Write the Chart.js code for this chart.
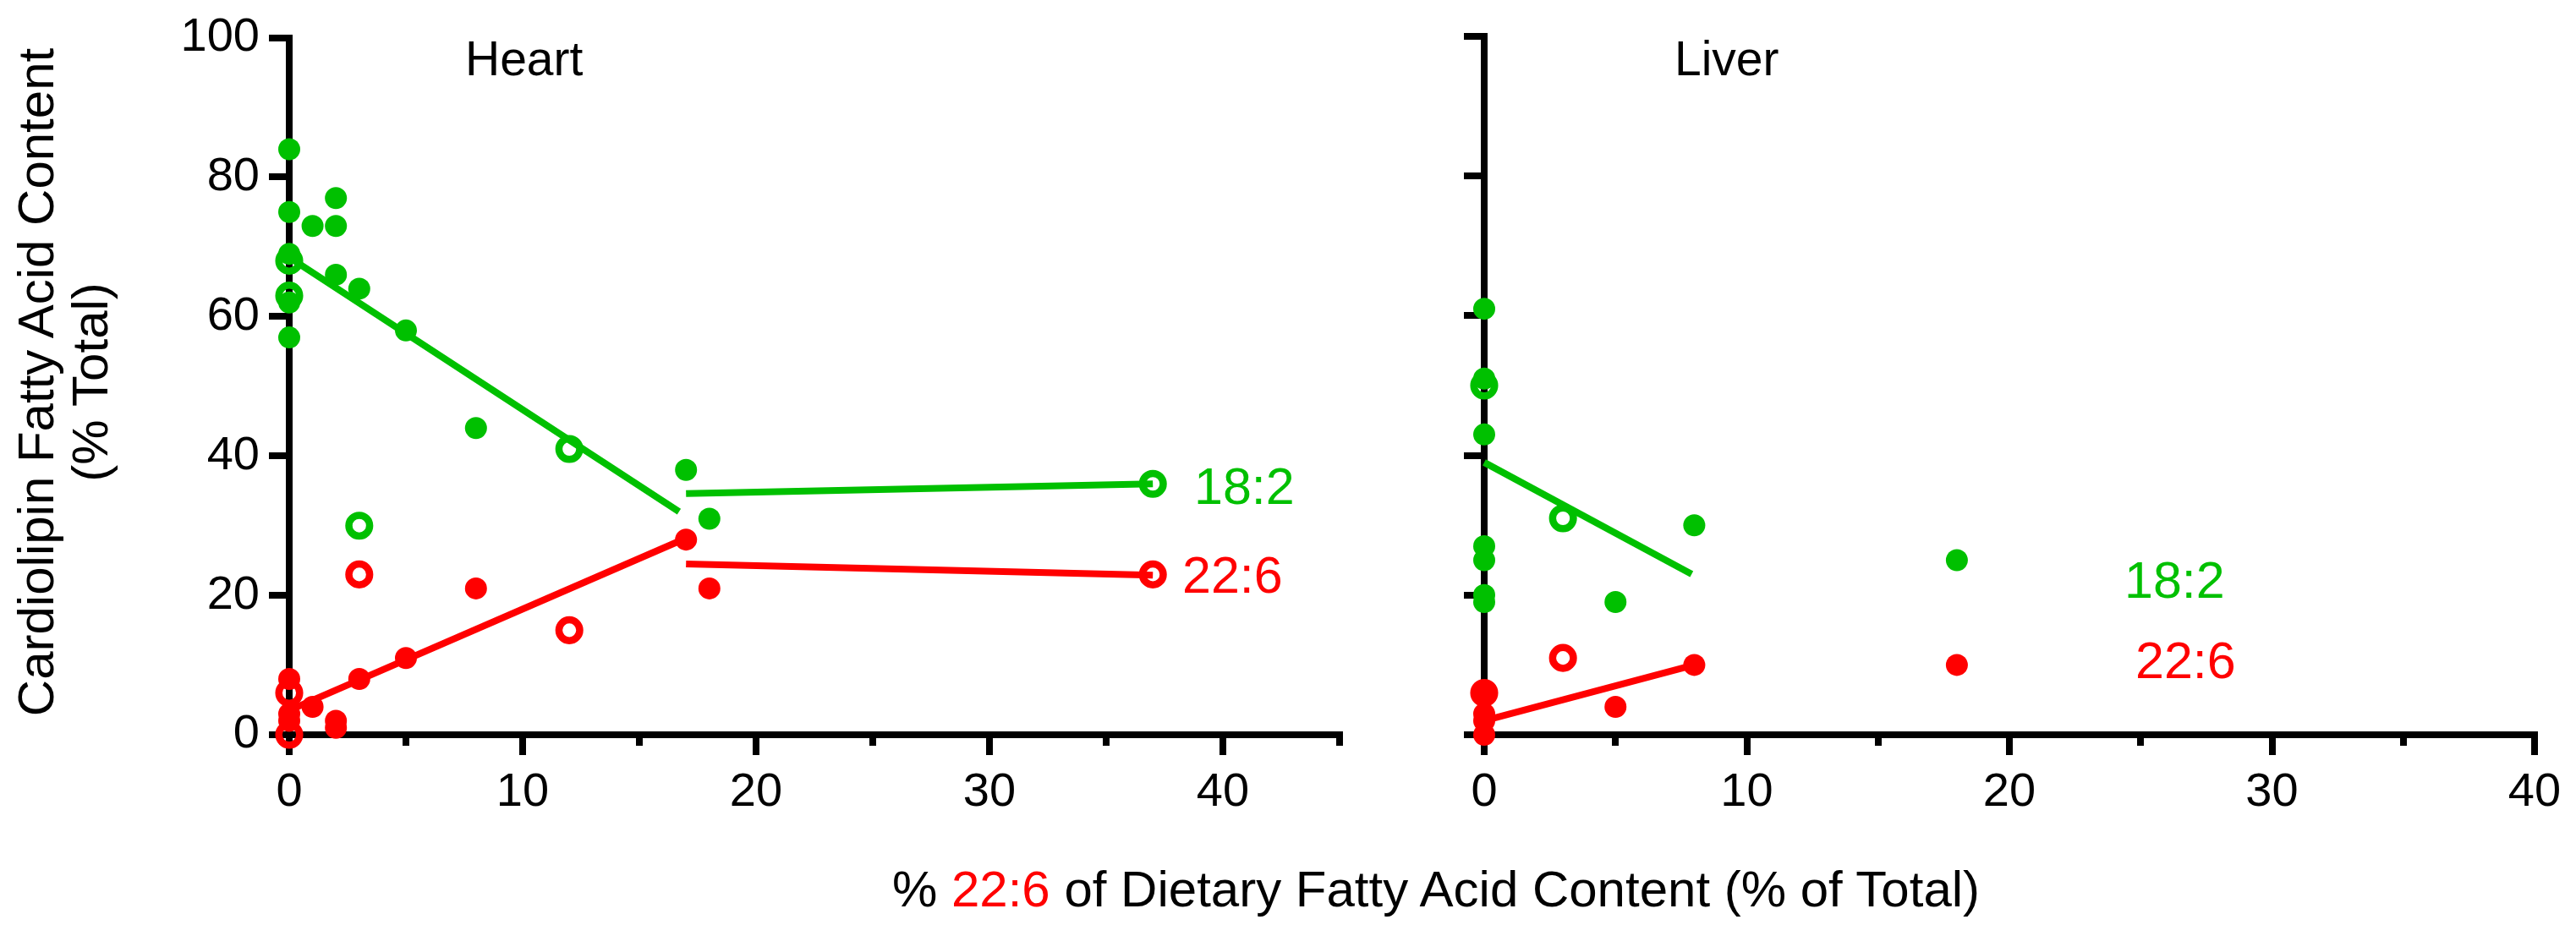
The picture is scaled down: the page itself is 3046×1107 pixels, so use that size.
<!DOCTYPE html>
<html>
<head>
<title>Cardiolipin Fatty Acid Content</title>
<script src="https://cdn.jsdelivr.net/npm/chart.js@4.4.1/dist/chart.umd.min.js"></script>
<style>
body{margin:0;background:#fff;}
#wrap{position:relative;width:3046px;height:1107px;background:#fff;overflow:hidden;font-family:Arial,"Liberation Sans",sans-serif;color:#000;}
canvas{position:absolute;top:0;}
.lbl{position:absolute;white-space:nowrap;line-height:1;}
</style>
</head>
<body>
<div id="wrap">
  <canvas id="heart" width="1700" height="1000" style="left:0px"></canvas>
  <canvas id="liver" width="1346" height="1000" style="left:1700px"></canvas>

  <div class="lbl" style="left:550px;top:41px;font-size:57px">Heart</div>
  <div class="lbl" style="left:1980px;top:41px;font-size:57px">Liver</div>

  <div class="lbl" style="left:1412px;top:545px;font-size:61px;color:rgb(0,192,0)">18:2</div>
  <div class="lbl" style="left:1398px;top:650px;font-size:61px;color:#f00">22:6</div>
  <div class="lbl" style="left:2512px;top:656px;font-size:61px;color:rgb(0,192,0)">18:2</div>
  <div class="lbl" style="left:2525px;top:751px;font-size:61px;color:#f00">22:6</div>

  <div class="lbl" style="left:1698px;top:1022px;font-size:60px;transform:translateX(-50%)">% <span style="color:#f00">22:6</span> of Dietary Fatty Acid Content (% of Total)</div>
  <div class="lbl" style="left:-375px;top:388px;width:900px;font-size:60px;line-height:64px;text-align:center;transform:rotate(-90deg)">Cardiolipin Fatty Acid Content<br>(% Total)</div>
</div>

<script>
// heart, 18:2
var heart182FilledX = [0, 0, 0, 0, 0, 1, 2, 2, 2, 3, 5, 8, 17, 18];
var heart182FilledY = [84, 75, 69, 62, 57, 73, 77, 73, 66, 64, 58, 44, 38, 31];
var heart182OpenX = [0, 0, 3, 12, 37];
var heart182OpenY = [68, 63, 30, 41, 36];
// heart, 22:6
var heart226FilledX = [0, 0, 0, 1, 2, 2, 3, 5, 8, 17, 18];
var heart226FilledY = [8, 3, 2, 4, 2, 1, 8, 11, 21, 28, 21];
var heart226OpenX = [0, 0, 3, 12, 37];
var heart226OpenY = [6, 0, 23, 15, 23];
// heart fit lines
var heart182Fit1X = [0, 16.7], heart182Fit1Y = [68.5, 32];
var heart182Fit2X = [17, 37], heart182Fit2Y = [34.6, 36];
var heart226Fit1X = [0, 17], heart226Fit1Y = [3.5, 28.2];
var heart226Fit2X = [17, 37], heart226Fit2Y = [24.5, 22.9];

// liver, 18:2
var liver182FilledX = [0, 0, 0, 0, 0, 0, 0, 5, 8, 18];
var liver182FilledY = [61, 51, 43, 27, 25, 20, 19, 19, 30, 25];
var liver182OpenX = [0, 3];
var liver182OpenY = [50, 31];
// liver, 22:6
var liver226FilledX = [0, 0, 0, 0, 5, 8, 18];
var liver226FilledY = [6, 3, 2, 0, 4, 10, 10];
var liver226OpenX = [0, 3];
var liver226OpenY = [6, 11];
// liver fit lines
var liver182FitX = [0, 7.9], liver182FitY = [39, 23];
var liver226FitX = [0, 8], liver226FitY = [2, 10];

var yTicks = [0, 20, 40, 60, 80, 100];

var GREEN = 'rgb(0,192,0)';
var RED = 'rgb(255,0,0)';
var FONT = 'Arial, "Liberation Sans", sans-serif';

function pts(xs, ys) {
  return xs.map(function (x, i) { return {x: x, y: ys[i]}; });
}
function filled(xs, ys, c) {
  return {data: pts(xs, ys), showLine: false, pointRadius: 13, pointBackgroundColor: c,
          pointBorderWidth: 0, pointBorderColor: c, clip: false, order: 1};
}
function open(xs, ys, c) {
  return {data: pts(xs, ys), showLine: false, pointRadius: 12.3, pointBackgroundColor: 'rgba(0,0,0,0)',
          pointBorderWidth: 8.5, pointBorderColor: c, clip: false, order: 1};
}
function fitLine(xs, ys, c) {
  return {data: pts(xs, ys), showLine: true, borderColor: c, borderWidth: 8,
          pointRadius: 0, clip: false, order: 2};
}

function panel(id, datasets, xMax, showYLabels, yWidth, padRight) {
  var tickFont = {family: FONT, size: 56};
  new Chart(document.getElementById(id), {
    type: 'scatter',
    data: {datasets: datasets},
    options: {
      responsive: false,
      animation: false,
      devicePixelRatio: 1,
      events: [],
      layout: {padding: {top: 43, right: padRight, bottom: 0, left: 0}},
      plugins: {legend: {display: false}, tooltip: {enabled: false}},
      scales: {
        x: {
          type: 'linear', position: 'bottom', min: 0, max: xMax, weight: 1,
          ticks: {stepSize: 10, includeBounds: false, autoSkip: false, maxRotation: 0,
                  color: '#000', padding: 11, font: tickFont},
          grid: {drawOnChartArea: false, drawTicks: true, tickLength: 24, tickWidth: 8,
                 lineWidth: 8, tickColor: '#000', color: '#000'},
          border: {display: true, color: '#000', width: 8},
          afterFit: function (s) { s.height = 131; }
        },
        xMinor: {
          type: 'linear', position: 'bottom', min: 0, max: xMax, weight: -10,
          ticks: {stepSize: 5, display: false},
          grid: {drawOnChartArea: false, drawTicks: true, tickLength: 13, tickWidth: 8,
                 lineWidth: 8, tickColor: '#000', color: '#000'},
          border: {display: false},
          afterFit: function (s) { s.height = 0; }
        },
        y: {
          type: 'linear', position: 'left', min: 0, max: 100,
          afterBuildTicks: function (s) { s.ticks = yTicks.map(function (v) { return {value: v}; }); },
          ticks: {display: showYLabels, color: '#000', padding: 11, font: tickFont},
          grid: {drawOnChartArea: false, drawTicks: true, tickLength: 24, tickWidth: 8,
                 lineWidth: 8, tickColor: '#000', color: '#000'},
          border: {display: true, color: '#000', width: 8},
          afterFit: function (s) { s.width = yWidth; }
        }
      }
    }
  });
}

panel('heart', [
  fitLine(heart182Fit1X, heart182Fit1Y, GREEN),
  fitLine(heart182Fit2X, heart182Fit2Y, GREEN),
  fitLine(heart226Fit1X, heart226Fit1Y, RED),
  fitLine(heart226Fit2X, heart226Fit2Y, RED),
  filled(heart182FilledX, heart182FilledY, GREEN),
  open(heart182OpenX, heart182OpenY, GREEN),
  filled(heart226FilledX, heart226FilledY, RED),
  open(heart226OpenX, heart226OpenY, RED)
], 45, true, 342, 116);

panel('liver', [
  fitLine(liver182FitX, liver182FitY, GREEN),
  fitLine(liver226FitX, liver226FitY, RED),
  filled(liver182FilledX, liver182FilledY, GREEN),
  open(liver182OpenX, liver182OpenY, GREEN),
  filled(liver226FilledX, liver226FilledY, RED),
  open(liver226OpenX, liver226OpenY, RED)
], 40, false, 55, 49);
</script>
</body>
</html>
